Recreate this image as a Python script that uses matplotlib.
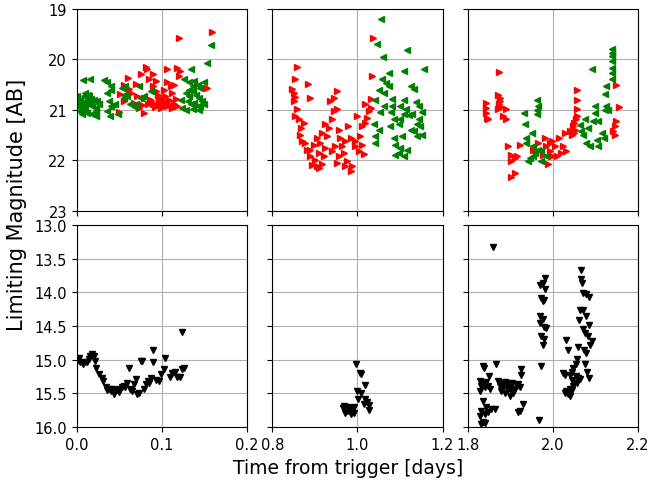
import matplotlib
matplotlib.use('Agg')
import matplotlib.pyplot as plt

# --- top row: red (>) and green (<) limits, mag ---
red1_t = [0.159, 0.120, 0.081, 0.082, 0.060, 0.075, 0.089, 0.106, 0.118, 0.121, 0.120, 0.085,
          0.093, 0.106, 0.114, 0.110, 0.055, 0.061, 0.090, 0.093, 0.102, 0.112, 0.153, 0.051,
          0.071, 0.079, 0.087, 0.095, 0.098, 0.104, 0.108, 0.114, 0.096, 0.090, 0.083, 0.077,
          0.067, 0.044, 0.049, 0.055, 0.100, 0.106, 0.112, 0.118, 0.102, 0.079, 0.092, 0.097,
          0.101, 0.105, 0.109, 0.099, 0.086, 0.094, 0.070, 0.064, 0.116, 0.073]
red1_m = [19.47, 19.58, 20.15, 20.20, 20.37, 20.29, 20.30, 20.20, 20.17, 20.23, 20.33, 20.40,
          20.43, 20.45, 20.50, 20.53, 20.50, 20.58, 20.53, 20.63, 20.60, 20.66, 20.56, 20.68,
          20.73, 20.76, 20.80, 20.70, 20.76, 20.73, 20.81, 20.88, 20.86, 20.88, 20.89, 20.91,
          20.86, 20.93, 21.04, 20.83, 20.93, 20.93, 20.96, 20.93, 20.83, 21.06, 20.95, 20.80,
          20.89, 20.85, 20.90, 20.97, 20.84, 20.91, 20.48, 20.66, 20.78, 20.96]
green1_t = [0.000, 0.002, 0.004, 0.006, 0.008, 0.010, 0.012, 0.014, 0.016, 0.018, 0.020, 0.022,
            0.024, 0.002, 0.006, 0.012, 0.018, 0.022, 0.000, 0.010, 0.014, 0.008, 0.020, 0.004,
            0.005, 0.017, 0.026, 0.009, 0.023, 0.013,
            0.007, 0.016, 0.032, 0.036, 0.040, 0.040, 0.036, 0.053, 0.057, 0.055, 0.055, 0.059,
            0.045, 0.038, 0.040, 0.063, 0.069, 0.073, 0.079, 0.075, 0.087, 0.039, 0.048, 0.036,
            0.068,
            0.126, 0.132, 0.136, 0.138, 0.142, 0.145, 0.128, 0.132, 0.136, 0.140, 0.144, 0.147,
            0.130, 0.134, 0.138, 0.142, 0.124, 0.128, 0.145, 0.149, 0.149, 0.132, 0.122, 0.136,
            0.144, 0.134, 0.153, 0.157]
green1_m = [20.73, 20.83, 20.89, 20.96, 20.73, 20.66, 20.80, 20.89, 20.86, 20.93, 20.80, 20.96,
            20.83, 21.03, 21.09, 21.06, 21.09, 21.13, 20.93, 20.96, 20.73, 20.86, 21.06, 20.80,
            20.90, 20.78, 20.88, 21.00, 21.02, 20.70,
            20.42, 20.40, 20.42, 20.45, 20.53, 20.60, 20.66, 20.56, 20.53, 20.70, 20.76, 20.73,
            20.88, 20.83, 20.93, 20.89, 20.88, 20.53, 20.73, 20.76, 20.63, 21.13, 21.09, 21.02,
            20.95,
            20.40, 20.46, 20.53, 20.43, 20.50, 20.56, 20.66, 20.73, 20.63, 20.70, 20.76, 20.83,
            20.83, 20.89, 20.86, 20.93, 20.96, 21.01, 20.93, 20.89, 20.46, 20.60, 20.80, 20.99,
            21.01, 20.19, 20.08, 19.72]

red2_t = [0.858, 0.854, 0.884, 0.846, 0.850, 0.854, 0.850, 0.858, 0.854, 0.862, 0.874, 0.868,
          0.866, 0.870, 0.882, 0.889, 0.893, 0.905, 0.917, 0.901, 0.909, 0.921, 0.925, 0.913,
          0.905, 0.917, 0.929, 0.933, 0.925, 0.940, 0.944, 0.952, 0.936, 0.944, 0.952, 0.889,
          0.956, 0.960, 0.948, 0.940, 0.956, 0.968, 0.976, 0.987, 0.984, 0.972, 0.984, 0.995,
          1.007, 0.995, 1.011, 1.003, 1.015, 0.979, 0.999, 1.011, 1.019, 1.023, 1.027, 1.031,
          1.019, 1.033, 1.035, 1.036, 0.889, 0.878, 0.897, 0.964, 0.952, 0.972, 0.909]
red2_m = [20.15, 20.40, 20.48, 20.58, 20.66, 20.74, 20.83, 20.99, 21.13, 21.19, 21.26, 21.36,
          21.49, 21.62, 21.79, 21.92, 22.09, 22.12, 22.07, 21.99, 21.85, 21.92, 21.75, 21.66,
          21.56, 21.46, 21.52, 21.36, 21.29, 21.19, 21.03, 20.99, 20.83, 20.76, 20.63, 20.76,
          21.39, 21.56, 21.72, 21.82, 21.92, 21.85, 22.02, 22.12, 22.22, 21.62, 21.56, 21.62,
          21.52, 21.72, 21.69, 21.82, 21.87, 21.33, 21.13, 21.33, 21.26, 21.16, 21.03, 20.96,
          20.89, 20.78, 20.33, 19.57, 21.79, 21.66, 21.69, 21.72, 22.05, 22.12, 22.15]
green2_t = [1.056, 1.046, 1.061, 1.116, 1.156, 1.110, 1.074, 1.058, 1.066, 1.074, 1.050, 1.062,
            1.125, 1.133, 1.082, 1.042, 1.109, 1.137, 1.144, 1.062, 1.082, 1.101, 1.054, 1.080,
            1.109, 1.121, 1.129, 1.152, 1.086, 1.101, 1.144, 1.038, 1.050, 1.077, 1.097, 1.125,
            1.148, 1.042, 1.086, 1.105, 1.140, 1.152, 1.042, 1.089, 1.101, 1.097, 1.089, 1.109,
            1.117, 1.132, 1.140, 1.113]
green2_m = [19.20, 19.70, 19.96, 19.82, 20.20, 20.23, 20.28, 20.40, 20.47, 20.53, 20.60, 20.66,
            20.53, 20.58, 20.78, 20.80, 20.81, 20.85, 20.93, 20.93, 20.93, 20.93, 21.05, 21.05,
            21.09, 21.11, 21.09, 21.05, 21.19, 21.19, 21.19, 21.29, 21.39, 21.33, 21.29, 21.39,
            21.33, 21.51, 21.56, 21.52, 21.52, 21.49, 21.66, 21.69, 21.75, 21.85, 21.89, 21.92,
            21.79, 21.42, 21.29, 20.99]

red3_t = [1.874, 1.844, 1.844, 1.844, 1.845, 1.848, 1.871, 1.875, 1.877, 1.874, 1.879, 1.871,
          1.891, 1.883, 1.891, 1.895, 1.903, 1.915, 1.911, 1.903, 1.911, 1.903, 1.922, 1.954,
          1.981, 1.965, 1.985, 1.997, 2.005, 1.993, 2.009, 1.997, 2.020, 2.024, 2.032, 2.014,
          2.028, 2.040, 2.044, 2.048, 2.052, 2.049, 2.054, 2.056, 2.050, 2.056, 2.056, 2.057,
          1.989, 1.977, 2.149, 2.156, 2.149, 2.146, 2.146, 2.142, 1.993]
red3_m = [20.25, 20.86, 20.96, 21.06, 21.16, 21.19, 20.70, 20.76, 20.83, 20.89, 20.94, 20.99,
          20.98, 21.13, 21.19, 21.72, 21.89, 21.92, 21.95, 22.02, 22.25, 22.32, 21.69, 21.79,
          21.56, 21.66, 21.72, 21.62, 21.72, 21.82, 21.92, 21.91, 21.85, 21.72, 21.82, 21.56,
          21.46, 21.42, 21.49, 21.33, 21.39, 21.26, 21.19, 21.13, 21.46, 20.99, 20.81, 20.61,
          22.07, 21.89, 20.50, 20.94, 21.23, 21.33, 21.49, 21.42, 21.66]
green3_t = [2.140, 2.140, 2.140, 2.140, 2.138, 2.138, 2.138, 2.125, 2.122, 2.091, 2.126, 2.130,
            2.122, 2.099, 2.099, 2.107, 2.095, 2.075, 2.083, 2.064, 2.067, 2.071, 2.079, 2.087,
            2.107, 2.103, 2.115, 2.120, 1.963, 1.963, 1.962, 1.965, 1.933, 1.934, 1.950, 1.938,
            1.938, 1.954, 1.965, 1.973, 1.954, 1.946, 1.942, 1.973, 1.985, 1.958]
green3_m = [19.80, 19.87, 19.93, 20.03, 20.17, 20.27, 20.40, 20.53, 20.69, 20.20, 20.93, 21.00,
            21.00, 20.93, 21.06, 21.23, 21.23, 21.19, 21.36, 21.31, 21.42, 21.49, 21.66, 21.71,
            21.72, 21.59, 21.46, 21.56, 20.80, 21.00, 21.09, 20.93, 21.06, 21.29, 21.46, 21.56,
            21.66, 21.72, 21.79, 21.82, 21.91, 21.95, 22.02, 22.02, 21.92, 21.85]

# --- bottom row: black (v) limits ---
blk1_t = [0.000, 0.002, 0.004, 0.007, 0.010, 0.012, 0.014, 0.015, 0.018, 0.020, 0.021, 0.023,
          0.026, 0.029, 0.031, 0.034, 0.036, 0.038, 0.040, 0.043, 0.044, 0.047, 0.049, 0.051,
          0.053, 0.055, 0.057, 0.059, 0.061, 0.063, 0.065, 0.067, 0.069, 0.071, 0.073, 0.075,
          0.077, 0.079, 0.081, 0.083, 0.085, 0.087, 0.090, 0.089, 0.093, 0.096, 0.099, 0.102,
          0.104, 0.109, 0.112, 0.115, 0.118, 0.121, 0.123, 0.126, 0.124]
blk1_m = [15.02, 14.97, 15.04, 15.06, 15.03, 15.04, 14.99, 14.94, 14.92, 14.94, 15.02, 15.13,
          15.22, 15.28, 15.32, 15.41, 15.45, 15.43, 15.46, 15.44, 15.51, 15.45, 15.48, 15.44,
          15.41, 15.39, 15.41, 15.34, 15.13, 15.44, 15.46, 15.36, 15.29, 15.51, 15.49, 15.02,
          15.02, 15.44, 15.36, 15.31, 15.34, 15.28, 14.86, 15.03, 15.30, 15.31, 15.22, 15.14,
          14.97, 15.26, 15.20, 15.18, 15.26, 15.26, 15.14, 15.12, 14.59]

blk2_t = [0.997, 1.005, 1.009, 1.019, 0.998, 1.009, 1.002, 1.019, 1.023, 1.015, 1.027, 1.027,
          0.968, 0.972, 0.976, 0.980, 0.984, 0.988, 0.992, 0.972, 0.984, 0.992, 0.976, 0.966]
blk2_m = [15.06, 15.20, 15.22, 15.37, 15.47, 15.49, 15.59, 15.58, 15.63, 15.66, 15.68, 15.75,
          15.69, 15.73, 15.71, 15.76, 15.72, 15.77, 15.71, 15.79, 15.81, 15.79, 15.76, 15.72]

blk3_t = [1.860,
          1.836, 1.838, 1.867, 1.850, 1.828, 1.836, 1.844, 1.832, 1.840, 1.848, 1.852, 1.830,
          1.836, 1.844, 1.856, 1.864, 1.832, 1.840, 1.848, 1.828, 1.836, 1.840, 1.832,
          1.871, 1.879, 1.887, 1.875, 1.883, 1.891, 1.895, 1.899, 1.903, 1.907, 1.911, 1.915,
          1.919, 1.922, 1.899, 1.887, 1.879, 1.926, 1.926, 1.922, 1.918, 1.929, 1.892, 1.905,
          1.981, 1.977, 1.971, 1.981, 1.973, 1.979, 1.976, 1.971, 1.976, 1.971, 1.979, 1.985,
          1.973, 1.979, 1.976, 1.973, 1.968,
          2.066, 2.067, 2.069, 2.071, 2.079, 2.085, 2.063, 2.071, 2.079, 2.062, 2.071, 2.075,
          2.082, 2.086, 2.088, 2.060, 2.073, 2.077, 2.032, 2.036, 2.056, 2.054, 2.075, 2.024,
          2.028, 2.048, 2.046, 2.054, 2.060, 2.064, 2.040, 2.044, 2.049, 2.056, 2.048, 2.040,
          2.032, 2.028, 2.036, 2.040, 2.046, 2.080, 2.085, 2.091]
blk3_m = [13.33,
          15.09, 15.13, 15.07, 15.25, 15.31, 15.34, 15.33, 15.39, 15.41, 15.39, 15.44, 15.46,
          15.62, 15.71, 15.73, 15.74, 15.76, 15.81, 15.78, 15.83, 15.92, 15.94, 15.95,
          15.31, 15.34, 15.33, 15.39, 15.41, 15.39, 15.44, 15.41, 15.46, 15.50, 15.44, 15.39,
          15.36, 15.41, 15.54, 15.49, 15.46, 15.14, 15.23, 15.76, 15.78, 15.66, 15.35, 15.34,
          13.79, 13.86, 13.90, 13.95, 14.08, 14.11, 14.13, 14.35, 14.40, 14.45, 14.51, 14.53,
          14.65, 14.70, 14.79, 15.09, 15.90,
          13.67, 13.80, 13.86, 14.01, 14.03, 14.07, 14.26, 14.27, 14.36, 14.41, 14.55, 14.61,
          14.65, 14.48, 14.79, 14.81, 14.85, 14.90, 14.71, 14.85, 14.99, 15.07, 15.06, 15.20,
          15.23, 15.12, 15.18, 15.24, 15.27, 15.29, 15.23, 15.30, 15.34, 15.35, 15.39, 15.44,
          15.46, 15.49, 15.51, 15.54, 15.45, 15.19, 15.28, 14.72]

xlims = [(0.0, 0.2), (0.8, 1.2), (1.8, 2.2)]
top_red = [(red1_t, red1_m), (red2_t, red2_m), (red3_t, red3_m)]
top_green = [(green1_t, green1_m), (green2_t, green2_m), (green3_t, green3_m)]
bottom_blk = [(blk1_t, blk1_m), (blk2_t, blk2_m), (blk3_t, blk3_m)]

fig, axs = plt.subplots(2, 3, figsize=(6.51, 4.85), dpi=100, sharey='row')
fig.subplots_adjust(left=0.118, right=0.980, top=0.980, bottom=0.1175,
                    wspace=0.147, hspace=0.069)

for i in range(3):
    ax = axs[0, i]
    ax.plot(top_red[i][0], top_red[i][1], '>', color='red', ms=4, ls='none')
    ax.plot(top_green[i][0], top_green[i][1], '<', color='green', ms=4, ls='none')
    ax.set_xlim(xlims[i])
    ax.set_xticks([xlims[i][0], (xlims[i][0] + xlims[i][1]) / 2, xlims[i][1]])
    ax.set_xticklabels([])
    ax.grid(True)

    ax = axs[1, i]
    ax.plot(bottom_blk[i][0], bottom_blk[i][1], 'v', color='black', ms=4, ls='none')
    ax.set_xlim(xlims[i])
    ax.set_xticks([xlims[i][0], (xlims[i][0] + xlims[i][1]) / 2, xlims[i][1]])
    ax.set_xticklabels(['%.1f' % v for v in ax.get_xticks()])
    ax.grid(True)

axs[0, 0].set_ylim(23, 19)
axs[0, 0].set_yticks([19, 20, 21, 22, 23])
axs[1, 0].set_ylim(16, 13)
axs[1, 0].set_yticks([13.0, 13.5, 14.0, 14.5, 15.0, 15.5, 16.0])
axs[1, 0].set_yticklabels(['13.0', '13.5', '14.0', '14.5', '15.0', '15.5', '16.0'])

for ax in axs.flat:
    ax.tick_params(labelsize=10.5)

fig.text(0.535, 0.015, 'Time from trigger [days]', ha='center', va='bottom', fontsize=13.5)
fig.text(0.010, 0.578, 'Limiting Magnitude [AB]', rotation=90, ha='left', va='center',
         fontsize=15)

fig.savefig('out.png', dpi=100)
